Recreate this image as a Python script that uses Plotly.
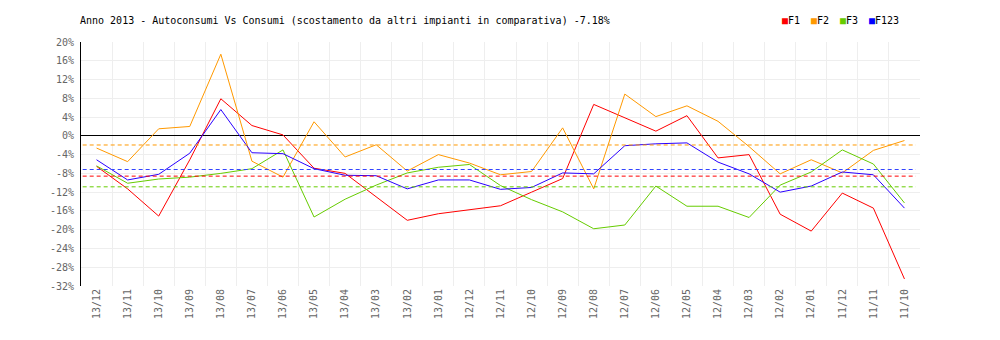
import plotly.graph_objects as go

months = ["13/12", "13/11", "13/10", "13/09", "13/08", "13/07", "13/06", "13/05", "13/04",
          "13/03", "13/02", "13/01", "12/12", "12/11", "12/10", "12/09", "12/08", "12/07",
          "12/06", "12/05", "12/04", "12/03", "12/02", "12/01", "11/12", "11/11", "11/10"]

f1 = [-6.5, -11.3, -17.1, -5.1, 7.9, 2.2, 0.2, -6.9, -8.0, -12.9, -18.0, -16.6, -15.7, -14.9,
      -12.0, -9.1, 6.7, 3.8, 1.0, 4.3, -4.7, -4.0, -16.7, -20.3, -12.2, -15.4, -30.5]
f2 = [-2.6, -5.5, 1.5, 2.0, 17.4, -5.4, -8.8, 3.0, -4.5, -1.9, -7.5, -4.0, -5.8, -8.3,
      -7.6, 1.7, -11.3, 8.9, 4.1, 6.4, 3.1, -2.3, -8.1, -5.1, -7.9, -3.1, -1.0]
f3 = [-6.4, -10.1, -9.2, -8.8, -8.0, -7.0, -3.0, -17.3, -13.5, -10.5, -7.9, -6.7, -6.1, -10.6,
      -13.6, -16.2, -19.8, -19.0, -10.7, -15.0, -15.0, -17.4, -10.5, -7.7, -3.0, -6.0, -14.3]
f123 = [-5.1, -9.4, -8.2, -3.7, 5.6, -3.6, -3.8, -7.0, -8.4, -8.5, -11.3, -9.4, -9.4, -11.4,
        -11.0, -7.9, -8.1, -2.1, -1.7, -1.5, -5.6, -8.1, -12.0, -10.7, -7.7, -8.3, -15.4]

series_names = ["F1", "F2", "F3", "F123"]
series_values = [f1, f2, f3, f123]
series_colors = ["#FF0000", "#FF9900", "#66CC00", "#2A00FF"]
avg_colors = ["#FF0000", "#FF9900", "#66CC00", "#3344FF"]
legend_colors = ["#FF0000", "#FF9900", "#66CC00", "#0000FF"]

title_text = "Anno 2013 - Autoconsumi Vs Consumi (scostamento da altri impianti in comparativa) -7.18%"
y_ticks = list(range(-32, 21, 4))
y_ticktext = [f"{v}%" for v in y_ticks]

MONO = "DejaVu Sans Mono"

# the page body has an 8px margin: the figure is sized to fit inside the 1000x340 window
FW, FH = 992, 332
ML, MT, PW, PH = 73, 34, 839, 244

fig = go.Figure()
for name, vals, col in zip(series_names, series_values, series_colors):
    fig.add_trace(go.Scatter(x=months, y=vals, name=name, mode="lines",
                             line=dict(color=col, width=1), showlegend=False,
                             hoverinfo="skip"))

# average (dashed) lines
for vals, col in zip(series_values, avg_colors):
    avg = sum(vals) / len(vals)
    fig.add_shape(type="line", xref="x domain", yref="y", x0=0.002, x1=0.995, y0=avg, y1=avg,
                  line=dict(color=col, width=1, dash="4px,3px"), layer="above")

# legend as text annotations (positions in window pixels)
leg_px = [780, 809, 838, 867]
leg_py = 20
for name, col, px in zip(series_names, legend_colors, leg_px):
    fig.add_annotation(xref="paper", yref="paper",
                       x=(px - 8 - ML) / PW, y=1 + (MT + 8 - leg_py) / PH,
                       xanchor="left", yanchor="middle", showarrow=False,
                       text=f'<span style="color:{col}">■</span>{name}',
                       font=dict(family=MONO, size=10, color="#000000"))

fig.update_layout(
    width=FW, height=FH,
    margin=dict(l=ML, r=FW - ML - PW, t=MT, b=FH - MT - PH, autoexpand=False),
    paper_bgcolor="white", plot_bgcolor="white",
    title=dict(text=title_text, xref="container", yref="container",
               x=(80 - 8) / FW, y=1 - (20 - 8) / FH, xanchor="left", yanchor="middle",
               font=dict(family=MONO, size=10, color="#000000")),
    xaxis=dict(type="category", tickson="boundaries", showgrid=True, gridcolor="#EEEEEE",
               gridwidth=1, tickangle=-90, ticks="", showline=False, zeroline=False,
               tickfont=dict(family=MONO, size=10, color="#666666"),
               range=[-0.5, len(months) - 0.5]),
    yaxis=dict(range=[-32, 20], tickmode="array", tickvals=y_ticks, ticktext=y_ticktext,
               showgrid=True, gridcolor="#EEEEEE", gridwidth=1, zeroline=True,
               zerolinecolor="#000000", zerolinewidth=1, showline=True, linecolor="#000000",
               linewidth=1, ticks="", ticklabelstandoff=4,
               tickfont=dict(family=MONO, size=10, color="#666666")),
)

fig.write_html("out.html")
